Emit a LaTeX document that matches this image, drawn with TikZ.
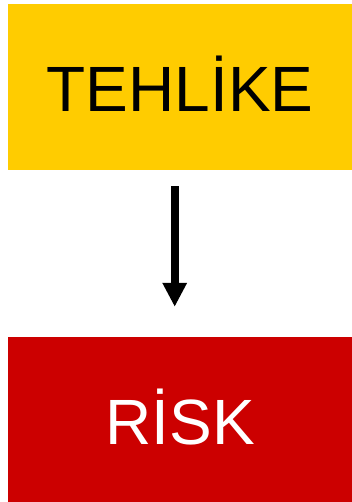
\documentclass[tikz,border=0pt]{standalone}
\usepackage{fontspec}
\setmainfont{Liberation Sans}
\usetikzlibrary{arrows.meta}
\definecolor{hazard}{HTML}{FFCC00}
\definecolor{riskred}{HTML}{CC0000}
\tikzset{
  box/.style={rectangle, minimum width=344pt, minimum height=166pt, inner sep=0pt, text height=50pt, text depth=0pt, font=\fontsize{64pt}{70pt}\selectfont},
  conn/.style={line width=8pt, -{Triangle[length=24pt,width=23pt]}}
}
\begin{document}
\begin{tikzpicture}[x=1pt,y=-1pt]
\useasboundingbox (0,0) rectangle (352,502);
\node[box, fill=hazard, text=black] (a) at (180,87) {TEHLİKE};
\node[box, fill=riskred, text=white, minimum height=165pt] (b) at (180,419.5) {RİSK};
\draw[conn, shorten <=16pt, shorten >=30pt] (a.south -| 174.7,0) -- (b.north -| 174.7,0);
\end{tikzpicture}
\end{document}
